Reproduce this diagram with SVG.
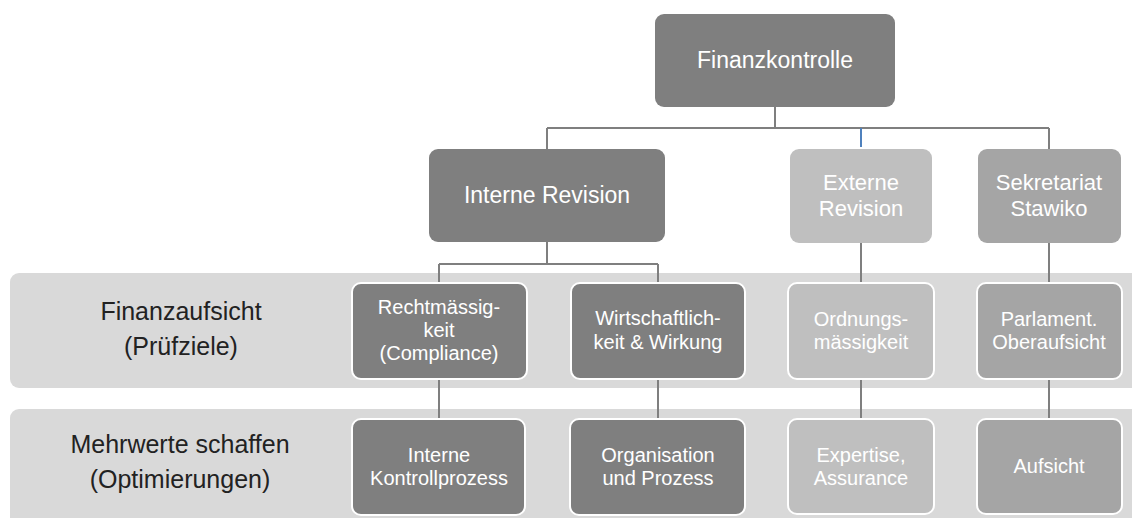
<svg xmlns="http://www.w3.org/2000/svg" width="1132" height="518" viewBox="0 0 1132 518">
<style>
.band{fill:#d9d9d9}
.dark{fill:#7f7f7f}
.mid{fill:#a5a5a5}
.light{fill:#bfbfbf}
.w{stroke:#ffffff;stroke-width:2}
text{font-family:"Liberation Sans",Arial,sans-serif;text-anchor:middle}
.t{fill:#ffffff}
.l{fill:#222222;font-size:25px}
.conn{stroke:#7f7f7f;stroke-width:2;fill:none}
.blue{stroke:#4f81bd;stroke-width:2;fill:none}
</style>
<g id="bands">
<rect class="band" x="10" y="273" width="1132" height="115" rx="9"/>
<rect class="band" x="10" y="409" width="1132" height="120" rx="9"/>
</g>
<g id="labels">
<text class="l" x="181" y="320">Finanzaufsicht</text>
<text class="l" x="181" y="355">(Prüfziele)</text>
<text class="l" x="180" y="453">Mehrwerte schaffen</text>
<text class="l" x="180" y="488">(Optimierungen)</text>
</g>
<g id="connectors">
<path class="conn" d="M775 107V128M547 128H1049M547 128V149M1049 128V149"/>
<path class="blue" d="M861 128V147"/>
<path class="conn" d="M547 242V264M439 264H658M439 264V283M658 264V283"/>
<path class="conn" d="M439 379V419M658 379V419M861 243V283M861 379V419M1049 243V283M1049 379V419"/>
</g>
<g id="finanzkontrolle">
<rect class="dark" x="655" y="14" width="240" height="93" rx="9"/>
<text class="t" x="775" y="68" font-size="23">Finanzkontrolle</text>
</g>
<g id="interne-revision">
<rect class="dark" x="429" y="149" width="236" height="93" rx="9"/>
<text class="t" x="547" y="203" font-size="23">Interne Revision</text>
</g>
<g id="externe-revision">
<rect class="light" x="790" y="149" width="142" height="94" rx="9"/>
<text class="t" x="861" y="190" font-size="22">Externe</text>
<text class="t" x="861" y="216" font-size="22">Revision</text>
</g>
<g id="sekretariat-stawiko">
<rect class="mid" x="978" y="149" width="143" height="94" rx="9"/>
<text class="t" x="1049" y="190" font-size="22">Sekretariat</text>
<text class="t" x="1049" y="216" font-size="22">Stawiko</text>
</g>
<g id="rechtmaessigkeit">
<rect class="dark w" x="352" y="283" width="175" height="96" rx="9"/>
<text class="t" x="439" y="314" font-size="20">Rechtmässig-</text>
<text class="t" x="439" y="337" font-size="20">keit</text>
<text class="t" x="439" y="360" font-size="20">(Compliance)</text>
</g>
<g id="wirtschaftlichkeit">
<rect class="dark w" x="571" y="283" width="174" height="96" rx="9"/>
<text class="t" x="658" y="325" font-size="20">Wirtschaftlich-</text>
<text class="t" x="658" y="349" font-size="20">keit &amp; Wirkung</text>
</g>
<g id="ordnungsmaessigkeit">
<rect class="light w" x="788" y="283" width="146" height="96" rx="9"/>
<text class="t" x="861" y="326" font-size="20">Ordnungs-</text>
<text class="t" x="861" y="349" font-size="20">mässigkeit</text>
</g>
<g id="parlament-oberaufsicht">
<rect class="mid w" x="977" y="283" width="145" height="96" rx="9"/>
<text class="t" x="1049" y="326" font-size="20">Parlament.</text>
<text class="t" x="1049" y="349" font-size="20">Oberaufsicht</text>
</g>
<g id="interne-kontrollprozess">
<rect class="dark w" x="352" y="419" width="173" height="96" rx="9"/>
<text class="t" x="439" y="462" font-size="20">Interne</text>
<text class="t" x="439" y="485" font-size="20">Kontrollprozess</text>
</g>
<g id="organisation-prozess">
<rect class="dark w" x="570" y="419" width="175" height="96" rx="9"/>
<text class="t" x="658" y="462" font-size="20">Organisation</text>
<text class="t" x="658" y="485" font-size="20">und Prozess</text>
</g>
<g id="expertise-assurance">
<rect class="light w" x="788" y="419" width="146" height="95" rx="9"/>
<text class="t" x="861" y="462" font-size="20">Expertise,</text>
<text class="t" x="861" y="485" font-size="20">Assurance</text>
</g>
<g id="aufsicht">
<rect class="mid w" x="977" y="419" width="145" height="95" rx="9"/>
<text class="t" x="1049" y="473" font-size="20">Aufsicht</text>
</g>
</svg>
